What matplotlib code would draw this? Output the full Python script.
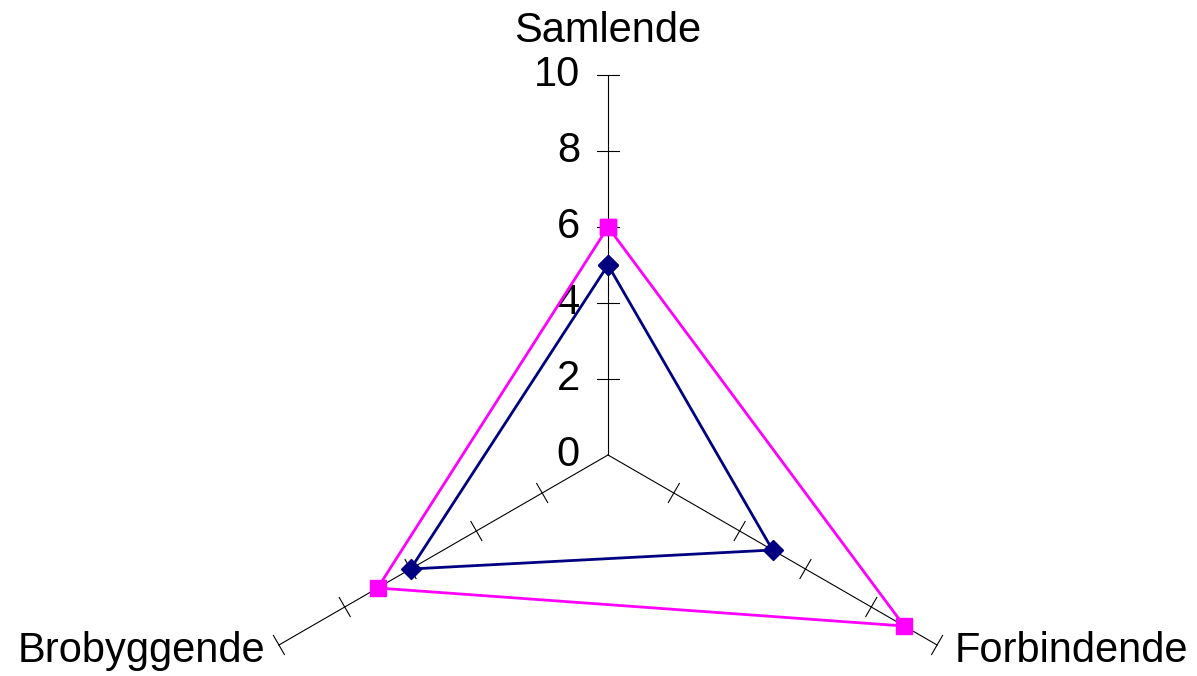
import numpy as np
import matplotlib
matplotlib.use("Agg")
import matplotlib.pyplot as plt

plt.rcParams['font.family'] = ['Liberation Sans', 'DejaVu Sans']

# chart data
categories = ["Samlende", "Forbindende", "Brobyggende"]
series1 = [5, 5, 6]   # navy diamonds
series2 = [6, 9, 7]   # magenta squares
ticks = [0, 2, 4, 6, 8, 10]
rmax = 10

angles = np.deg2rad([90, -30, 210])

def to_xy(vals):
    v = np.asarray(vals, dtype=float)
    return v * np.cos(angles), v * np.sin(angles)

fig = plt.figure(figsize=(11.97, 6.76), dpi=100)
ax = fig.add_axes([0, 0, 1, 1])
px = 38.0  # pixels per unit
ax.set_xlim(-608 / px, (1197 - 608) / px)
ax.set_ylim(-(676 - 455) / px, 455 / px)
ax.axis('off')

# spokes with perpendicular tick marks
half = 11 / px
for a in angles:
    ax.plot([0, rmax * np.cos(a)], [0, rmax * np.sin(a)], color='black', lw=0.8, zorder=1)
    nx, ny = -np.sin(a), np.cos(a)
    for t in ticks[1:]:
        cx, cy = t * np.cos(a), t * np.sin(a)
        ax.plot([cx - half * nx, cx + half * nx], [cy - half * ny, cy + half * ny],
                color='black', lw=0.8, zorder=1)

fs = 30
# value labels on the top spoke
for t in ticks:
    ax.text(-28 / px, t, str(t), ha='right', va='center', fontsize=fs)

# category labels
ax.text(0, rmax + 44 / px, categories[0], ha='center', va='center', fontsize=fs)
ex, ey = rmax * np.cos(angles[1]), rmax * np.sin(angles[1])
ax.text(ex + 18 / px, ey - 6 / px, categories[1], ha='left', va='center', fontsize=fs)
ex, ey = rmax * np.cos(angles[2]), rmax * np.sin(angles[2])
ax.text(ex - 14 / px, ey - 6 / px, categories[2], ha='right', va='center', fontsize=fs)

x1, y1 = to_xy(series1)
ax.plot(np.append(x1, x1[0]), np.append(y1, y1[0]), color='#000080', lw=2.0,
        marker='D', markersize=10, zorder=3)
x2, y2 = to_xy(series2)
ax.plot(np.append(x2, x2[0]), np.append(y2, y2[0]), color='#FF00FF', lw=2.0,
        marker='s', markersize=11, zorder=4)

fig.savefig("out.png", dpi=100)
